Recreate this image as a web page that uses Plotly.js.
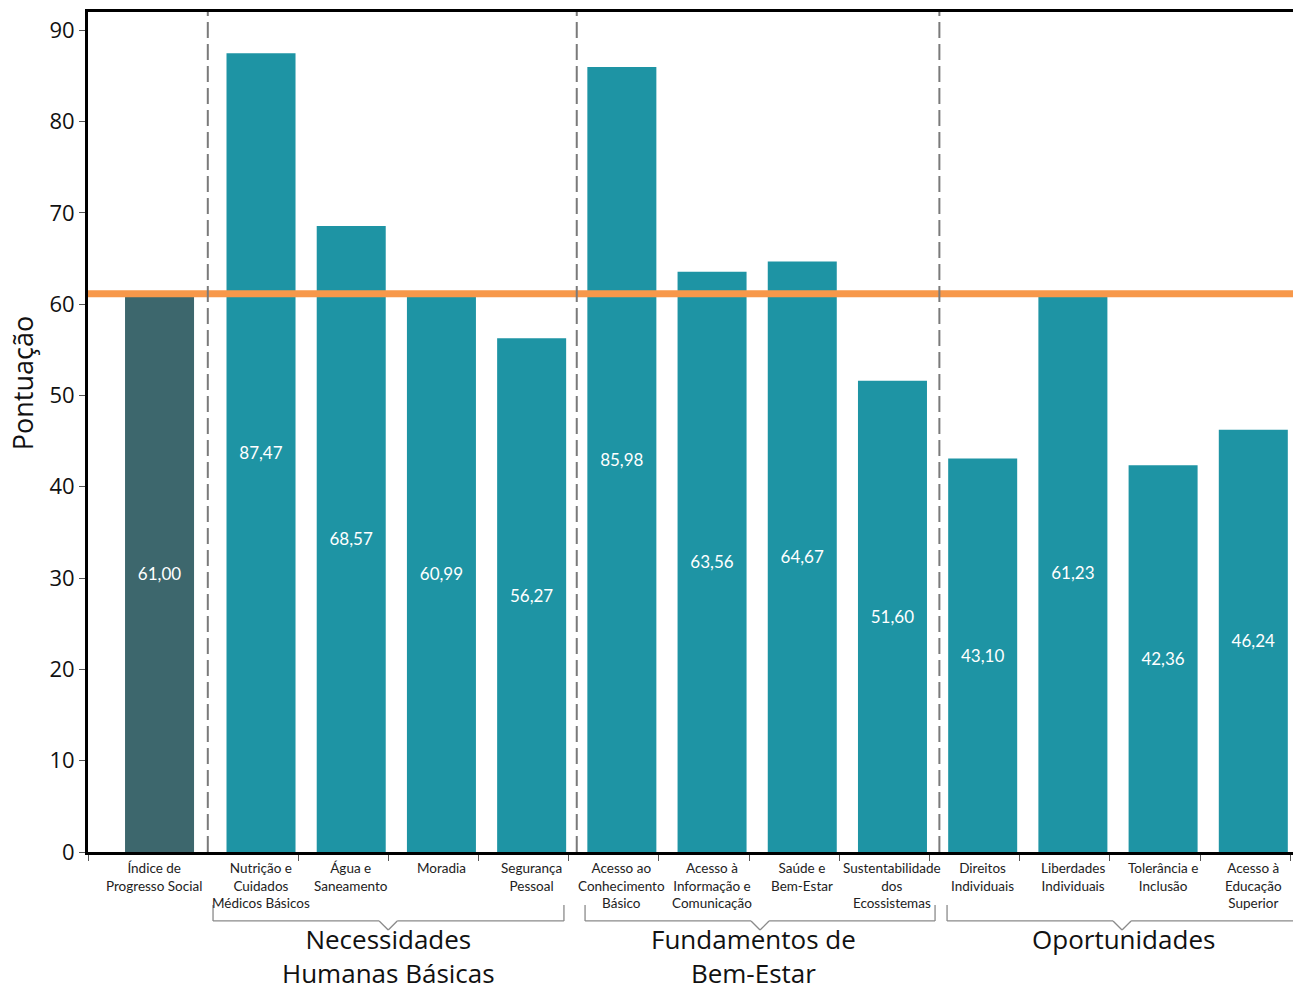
<!DOCTYPE html>
<html><head><meta charset="utf-8">
<script src="https://cdn.plot.ly/plotly-3.0.1.min.js"></script>
<style>body{margin:0;background:#fff}#chart{width:1293px;height:994px}</style>
</head><body><div id="chart"></div>
<script>
const categories = ["Índice de<br>Progresso Social","Nutrição e<br>Cuidados<br>Médicos Básicos","Água e<br>Saneamento","Moradia","Segurança<br>Pessoal","Acesso ao<br>Conhecimento<br>Básico","Acesso à<br>Informação e<br>Comunicação","Saúde e<br>Bem-Estar","Sustentabilidade<br>dos<br>Ecossistemas","Direitos<br>Individuais","Liberdades<br>Individuais","Tolerância e<br>Inclusão","Acesso à<br>Educação<br>Superior"];
const values = [61.00,87.47,68.57,60.99,56.27,85.98,63.56,64.67,51.60,43.10,61.23,42.36,46.24];
const groupNames = ["Necessidades<br>Humanas Básicas","Fundamentos de<br>Bem-Estar","Oportunidades"];
const groupStart = [1,5,9];
const groupEnd = [4,8,12];

const fmt = v => v.toFixed(2).replace('.', ',');
const FONT = "Lato, 'Open Sans', sans-serif";
const GFONT = "'Open Sans', Lato, sans-serif";
const W = 0.765;

const idx = {
  type:'bar', x:[0], y:[values[0]], width:[W], offset:[-W/2-0.125],
  marker:{color:'#3D676D'}, text:[fmt(values[0])], textposition:'inside',
  insidetextanchor:'middle', textangle:0, constraintext:'none',
  textfont:{color:'#fff', size:17, family:FONT}, hoverinfo:'skip'
};
const xs = values.slice(1).map((v,i)=>i+1);
const rest = {
  type:'bar', x:xs, y:values.slice(1), width:W,
  marker:{color:'#1E94A4'}, text:values.slice(1).map(fmt), textposition:'inside',
  insidetextanchor:'middle', textangle:0, constraintext:'none',
  textfont:{color:'#fff', size:17, family:FONT}, hoverinfo:'skip'
};

const shapes = [];
// average line
shapes.push({type:'line', xref:'paper', x0:0, x1:1, yref:'y', y0:values[0]+0.15, y1:values[0]+0.15, line:{color:'#F7984A', width:7}});
// dashed dividers
[0.41, 4.5, 8.52].forEach(x=>{
  shapes.push({type:'line', xref:'x', x0:x, x1:x, yref:'paper', y0:0, y1:1, line:{color:'#7a7a7a', width:2, dash:'16px,6px'}, layer:'above'});
});
// brackets (layout geometry)
const bracketX = [[0.468, 4.358, 2.41, true],[4.592, 8.472, 6.532, true],[8.605, 12.6, 10.545, false]];
const yTop = -0.0631, yBot = -0.0821, yNotch = -0.0929;
const bc = '#8a8a8a';
bracketX.forEach(b=>{
  const [x0,x1,xm,closeRight] = b;
  const nw = 0.1;
  const segs = [[x0,yTop,x0,yBot],[x0,yBot,xm-nw,yBot],[xm+nw,yBot,x1,yBot],[xm-nw,yBot,xm,yNotch],[xm,yNotch,xm+nw,yBot]];
  if (closeRight) segs.push([x1,yTop,x1,yBot]);
  segs.forEach(sg=>shapes.push({type:'line', xref:'x', yref:'paper', x0:sg[0], y0:sg[1], x1:sg[2], y1:sg[3], line:{color:bc, width:1.3}}));
});

const annotations = [];
categories.forEach((c,i)=>{
  annotations.push({x:i, xref:'x', y:-0.0075, yref:'paper', yanchor:'top', xanchor:'center', xshift: i===0 ? -17 : 0,
    text:c, showarrow:false, font:{size:13.5, color:'#222', family:FONT}});
});
const groupCenters = [2.41, 6.46, 10.56];
groupNames.forEach((g,i)=>{
  annotations.push({x:groupCenters[i], xref:'x', y:(852-920)/840, yref:'paper', yanchor:'top', xanchor:'center',
    text:g, showarrow:false, borderpad:0, font:{size:26, color:'#111', family:GFONT}});
});
annotations.push({x:-0.0548, xref:'paper', y:0.558, yref:'paper', text:'Pontuação', textangle:-90, showarrow:false,
  xanchor:'center', yanchor:'middle', font:{size:27, color:'#111', family:GFONT}});

const layout = {
  width:1293, height:994, margin:{l:88, r:0, t:12, b:142},
  paper_bgcolor:'#fff', plot_bgcolor:'#fff', barmode:'overlay', showlegend:false,
  xaxis:{type:'linear', range:[-0.918, 12.44], showgrid:false, zeroline:false, showticklabels:false,
    showline:true, linecolor:'#000', linewidth:3, mirror:true, ticks:'outside', tickvals:[-0.918,1.41,2.41,3.41,4.41,5.41,6.41,7.41,8.41,9.41,10.41,11.41,12.41], ticklen:6, tickcolor:'#555', tickwidth:1},
  yaxis:{range:[0,92], dtick:10, tick0:0, showgrid:false, zeroline:false, showline:true, linecolor:'#000', linewidth:3,
    ticks:'outside', ticklen:6, tickcolor:'#555', tickwidth:1, tickfont:{size:22, color:'#111', family:GFONT}},
  shapes:shapes, annotations:annotations
};
Plotly.newPlot('chart', [idx, rest], layout, {displayModeBar:false, staticPlot:true});
</script></body></html>
